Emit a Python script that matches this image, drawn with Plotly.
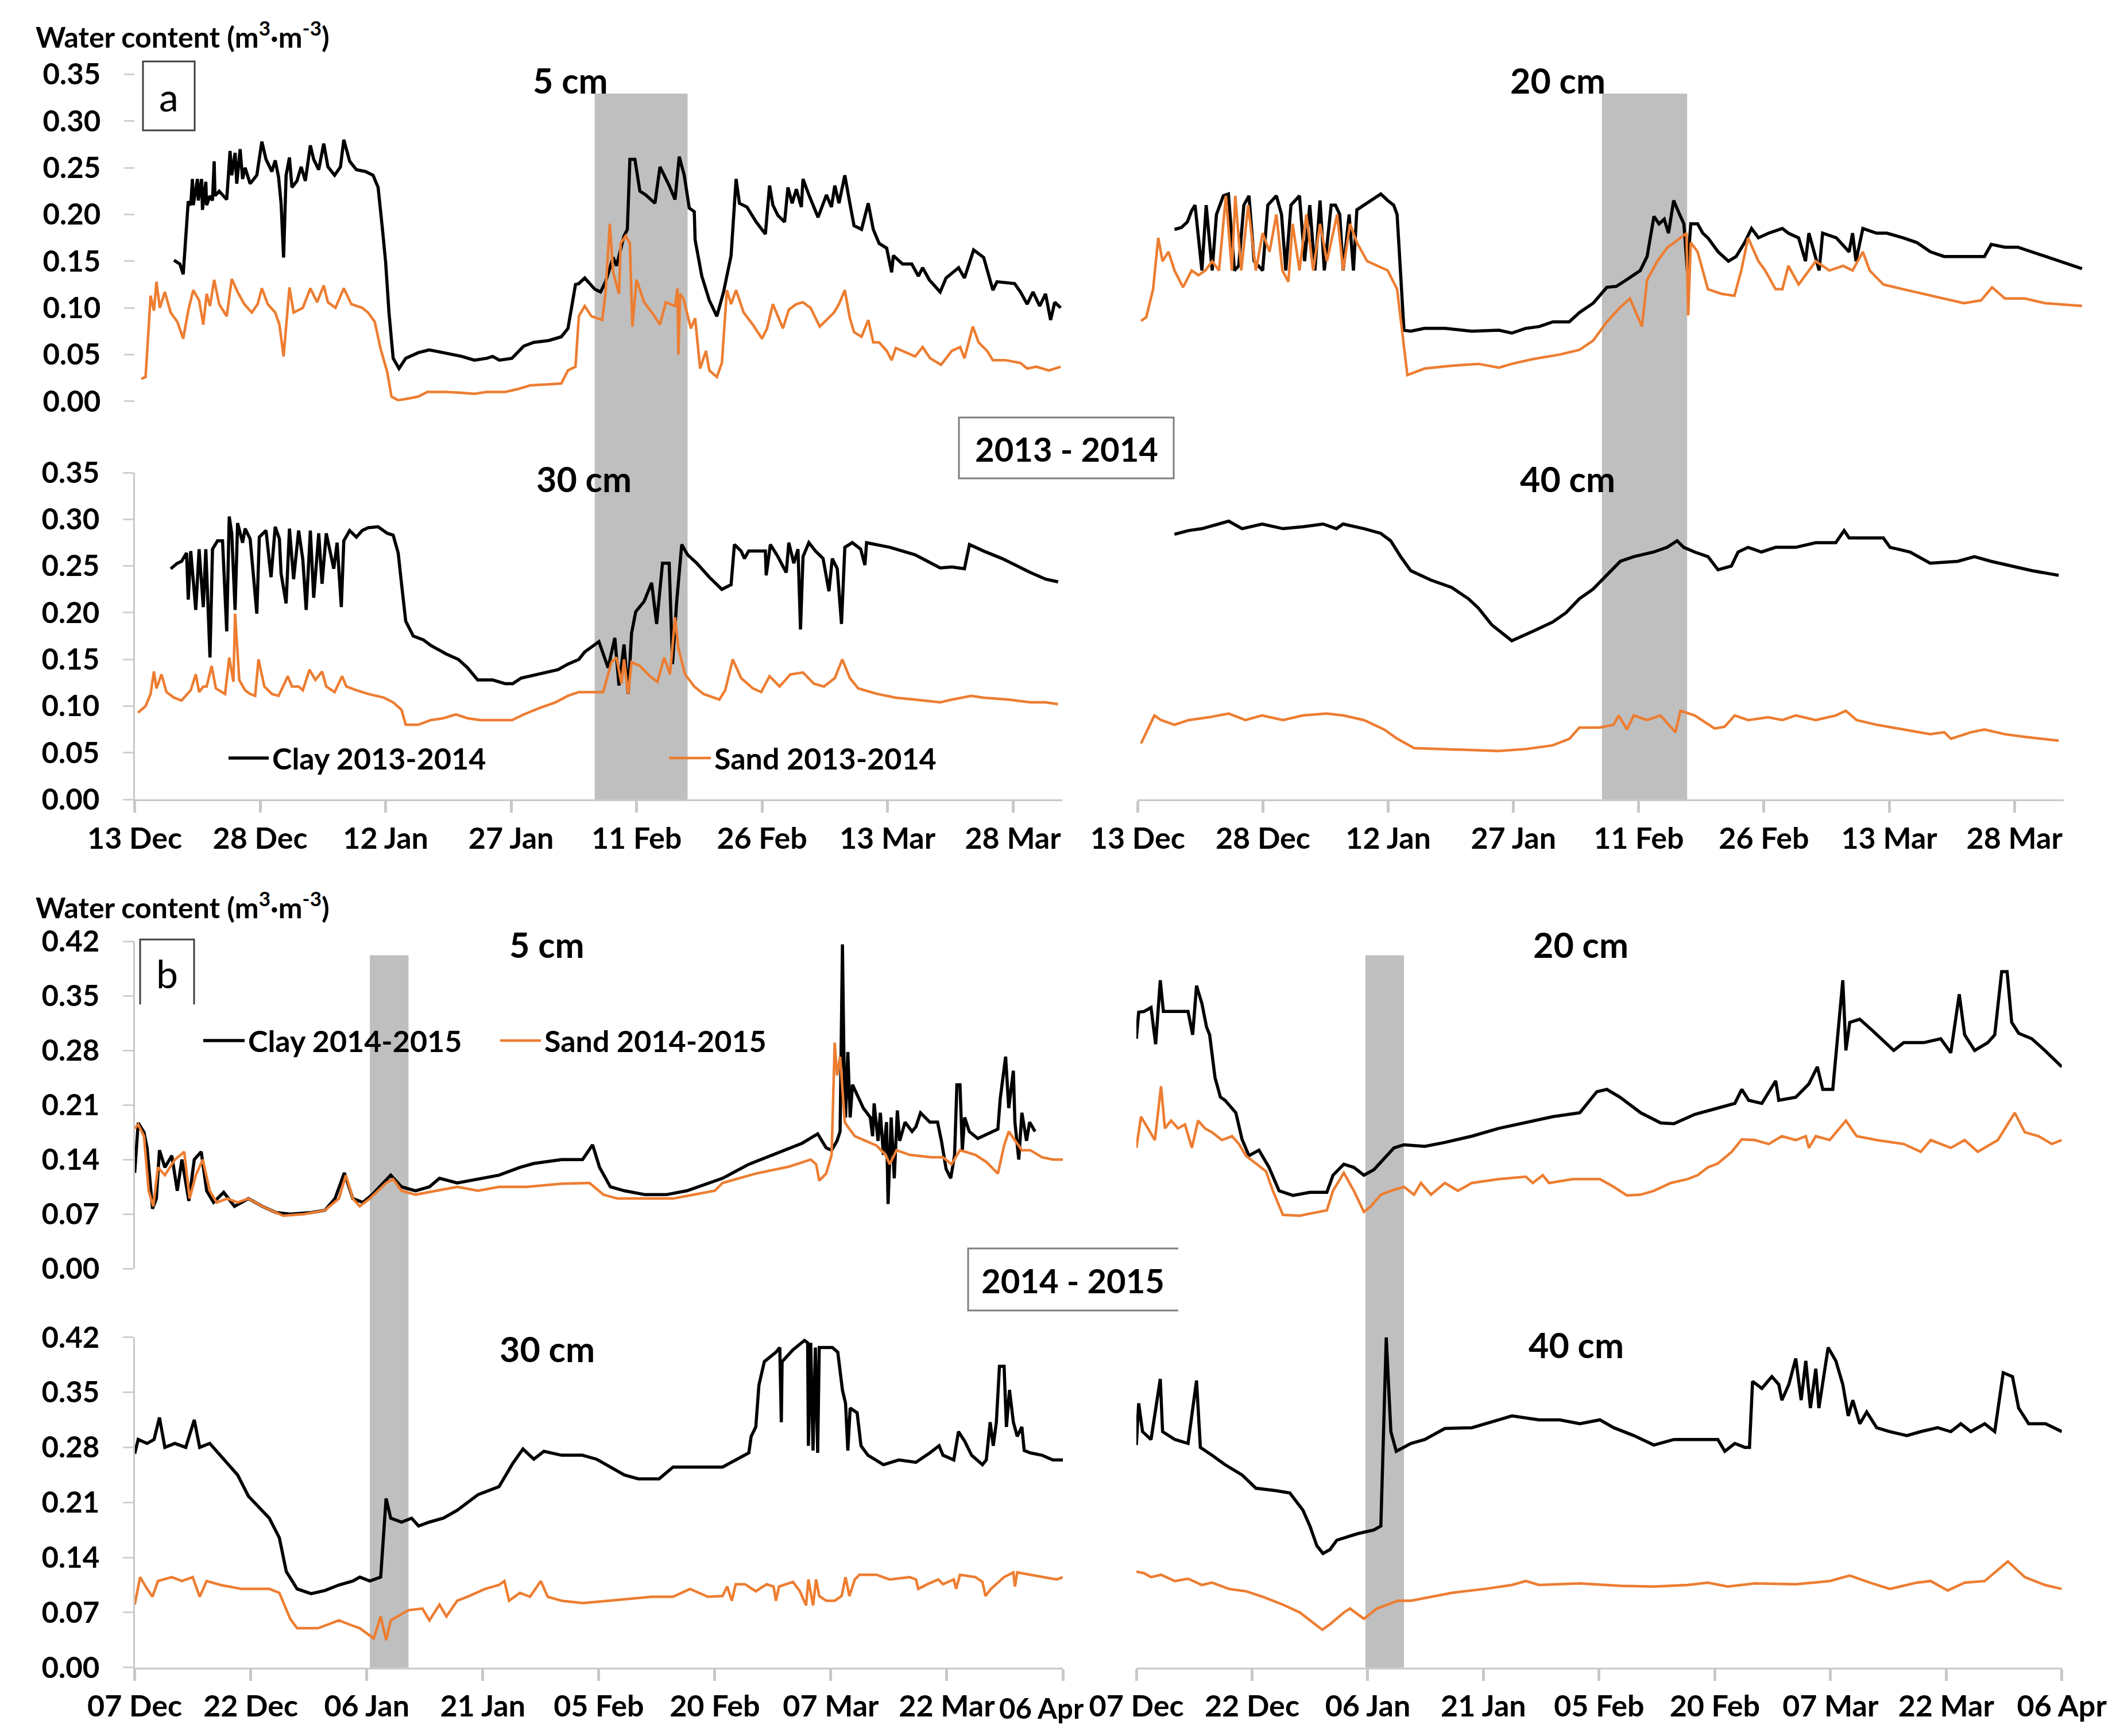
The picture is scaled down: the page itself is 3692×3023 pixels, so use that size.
import pandas as pd
import plotly.graph_objects as go

# ---------------------------------------------------------------- data
# x values are days counted from the first date of each season's axis
start_1314 = "2013-12-13"
start_1415 = "2014-12-07"
axis_days_1314 = 110.9
axis_days_1415 = 120.0

y_ticks_1314 = [0.00, 0.05, 0.10, 0.15, 0.20, 0.25, 0.30, 0.35]
y_ticks_1415 = [0.00, 0.07, 0.14, 0.21, 0.28, 0.35, 0.42]

# rain periods shown as grey bands (days from axis start)
rain_1314_left = [55.0, 66.1]
rain_1314_right = [55.6, 65.8]
rain_1415_left = [30.4, 35.4]
rain_1415_right = [29.7, 34.7]

# ---- 2013-2014, 5 cm
clay_5cm_1314_days = [4.7, 5.4, 5.8, 6.2, 6.4, 6.7, 6.9, 7.0, 7.5, 7.6, 8.0, 8.1, 8.5, 8.6, 9.0, 9.3, 9.5, 9.6, 10.1, 11.0,
                      11.4, 11.6, 12.0, 12.2, 12.6, 12.9, 13.2, 13.8, 14.6, 15.2, 15.7, 16.4, 16.8, 17.2, 17.5, 17.8, 18.1, 18.5, 18.8, 19.4,
                      19.9, 20.4, 21.0, 21.4, 22.0, 22.6, 23.1, 23.9, 24.6, 25.0, 25.7, 26.5, 27.6, 28.5, 29.1, 29.6, 30.0, 30.4, 30.9, 31.6,
                      32.4, 33.9, 35.2, 36.9, 39.1, 40.6, 42.1, 42.8, 43.6, 45.1, 46.5, 47.7, 49.5, 51.0, 51.8, 52.7,
                      53.1, 53.8, 55.0, 55.7, 56.3, 57.2, 57.6, 58.5, 58.9, 59.2, 59.8, 60.4, 61.1, 62.2, 62.8, 63.3, 63.9, 64.6, 65.1, 65.7,
                      66.3, 66.9, 67.0, 67.8, 68.7, 69.6, 70.4, 71.3, 71.9, 72.3, 73.2, 74.3, 75.4, 75.9, 76.3, 76.9, 77.7, 78.1, 78.6, 79.1,
                      79.7, 79.9, 80.6, 81.7, 82.7, 83.3, 83.7, 84.2, 84.9, 85.5, 86.0, 86.9, 87.7, 88.3, 89.0, 89.9, 90.5, 90.7, 91.8, 92.9,
                      93.7, 94.2, 95.0, 96.3, 97.0, 98.5, 99.2, 100.3, 101.5, 102.6, 103.1, 105.2, 105.9, 106.7, 107.4, 108.2, 108.9, 109.5, 110.0, 110.7]
clay_5cm_1314 = [0.151, 0.147, 0.136, 0.194, 0.214, 0.210, 0.238, 0.210, 0.238, 0.215, 0.238, 0.205, 0.235, 0.210, 0.220, 0.215, 0.257, 0.220, 0.225, 0.216,
                 0.268, 0.242, 0.266, 0.233, 0.270, 0.238, 0.250, 0.233, 0.242, 0.278, 0.259, 0.246, 0.258, 0.240, 0.212, 0.154, 0.242, 0.261, 0.229, 0.236,
                 0.251, 0.236, 0.274, 0.259, 0.248, 0.276, 0.251, 0.242, 0.251, 0.280, 0.257, 0.248, 0.246, 0.242, 0.229, 0.186, 0.149, 0.095, 0.046, 0.035,
                 0.046, 0.052, 0.055, 0.052, 0.048, 0.044, 0.046, 0.048, 0.044, 0.046, 0.059, 0.063, 0.065, 0.069, 0.078, 0.125,
                 0.126, 0.132, 0.120, 0.117, 0.128, 0.154, 0.145, 0.177, 0.184, 0.259, 0.259, 0.225, 0.221, 0.212, 0.251, 0.242, 0.231, 0.216, 0.262, 0.242,
                 0.207, 0.203, 0.173, 0.134, 0.108, 0.091, 0.117, 0.156, 0.238, 0.212, 0.208, 0.192, 0.179, 0.231, 0.210, 0.199, 0.192, 0.229, 0.212, 0.227,
                 0.208, 0.238, 0.221, 0.197, 0.221, 0.208, 0.231, 0.212, 0.242, 0.212, 0.188, 0.184, 0.212, 0.184, 0.169, 0.164, 0.138, 0.156, 0.147, 0.147,
                 0.134, 0.143, 0.130, 0.117, 0.132, 0.143, 0.132, 0.162, 0.154, 0.119, 0.128, 0.126, 0.117, 0.104, 0.117, 0.102, 0.115, 0.087, 0.106, 0.100]
sand_5cm_1314_days = [0.8, 1.3, 1.9, 2.3, 2.6, 3.0, 3.6, 4.3, 5.1, 5.8, 6.4, 7.0, 7.7, 8.2, 8.6, 9.0, 9.5, 10.1, 11.0, 11.6,
                      12.3, 13.1, 14.0, 14.7, 15.2, 15.9, 16.8, 17.3, 17.8, 18.5, 19.0, 20.1, 21.0, 21.8, 22.6, 23.1, 24.0, 25.0, 25.9, 27.2,
                      27.9, 28.7, 29.4, 30.2, 30.7, 31.5, 32.8, 33.9, 35.0, 37.2, 39.1, 40.6, 42.1, 44.3, 45.8, 47.3, 49.2, 51.0, 51.8, 52.7,
                      53.1, 53.8, 54.6, 55.9, 56.3, 56.8, 57.2, 57.9, 58.1, 58.7, 59.2, 59.5, 60.0, 60.9, 62.0, 62.8, 63.5, 64.6, 64.9, 65.0,
                      65.2, 65.6, 66.5, 67.0, 67.6, 68.3, 68.7, 69.6, 70.2, 70.8, 71.3, 71.9, 72.8, 73.9, 75.0, 75.6, 76.3, 77.5, 78.2, 79.1,
                      79.9, 80.8, 81.9, 82.9, 83.6, 84.2, 84.9, 85.5, 86.0, 86.9, 87.7, 88.3, 89.0, 89.9, 90.5, 91.0, 92.2, 93.3, 94.2, 95.1,
                      96.4, 97.7, 98.7, 99.2, 100.2, 100.9, 101.9, 102.6, 104.1, 105.9, 106.7, 107.8, 109.3, 110.7]
sand_5cm_1314 = [0.024, 0.026, 0.113, 0.097, 0.128, 0.100, 0.117, 0.095, 0.085, 0.067, 0.097, 0.119, 0.108, 0.082, 0.115, 0.102, 0.130, 0.104, 0.091, 0.131,
                 0.117, 0.104, 0.095, 0.104, 0.121, 0.104, 0.095, 0.082, 0.048, 0.122, 0.095, 0.100, 0.121, 0.106, 0.124, 0.106, 0.100, 0.121, 0.104, 0.100,
                 0.095, 0.085, 0.056, 0.031, 0.005, 0.001, 0.003, 0.005, 0.010, 0.010, 0.009, 0.008, 0.010, 0.010, 0.013, 0.017, 0.018, 0.019, 0.033, 0.037,
                 0.091, 0.102, 0.091, 0.087, 0.117, 0.190, 0.138, 0.115, 0.169, 0.177, 0.169, 0.080, 0.130, 0.106, 0.093, 0.082, 0.106, 0.102, 0.121, 0.050,
                 0.115, 0.110, 0.078, 0.089, 0.035, 0.054, 0.033, 0.026, 0.041, 0.119, 0.104, 0.119, 0.095, 0.082, 0.067, 0.078, 0.104, 0.078, 0.098, 0.104,
                 0.106, 0.100, 0.080, 0.089, 0.095, 0.104, 0.119, 0.089, 0.074, 0.069, 0.087, 0.063, 0.063, 0.054, 0.044, 0.057, 0.052, 0.048, 0.058, 0.046,
                 0.039, 0.054, 0.058, 0.046, 0.080, 0.063, 0.054, 0.044, 0.044, 0.041, 0.035, 0.037, 0.033, 0.037]

# ---- 2013-2014, 20 cm
clay_20cm_1314_days = [4.3, 5.1, 5.8, 6.3, 6.7, 7.5, 8.0, 8.7, 9.2, 10.0, 10.6, 11.3, 11.8, 12.4, 13.0, 13.6, 14.6, 15.2, 16.2, 16.8,
                       17.3, 17.9, 18.9, 19.5, 20.1, 20.7, 21.3, 21.8, 22.6, 23.1, 23.6, 24.0, 24.7, 25.2, 25.6, 26.4, 27.2, 28.4, 29.2, 29.9,
                       30.3, 30.7, 31.1, 31.9, 33.5, 35.9, 39.0, 42.2, 43.7, 45.3, 46.9, 48.5, 50.4, 51.6, 53.2, 54.8, 55.9, 57.1, 58.7, 59.5,
                       60.3, 60.9, 61.5, 62.0, 62.6, 63.3, 63.8, 64.2, 64.6, 65.4, 66.0, 66.6, 67.8, 69.0, 69.9, 70.9, 71.7, 72.5, 73.7, 75.3,
                       76.0, 77.2, 78.0, 78.4, 79.6, 80.0, 81.6, 83.1, 83.5, 83.9, 84.7, 86.3, 87.5, 89.4, 91.0, 92.6, 94.2, 96.5, 98.9, 99.7,
                       101.3, 102.8, 104.4, 106.0, 107.6, 109.1, 110.3]
clay_20cm_1314 = [0.184, 0.186, 0.192, 0.204, 0.210, 0.140, 0.210, 0.140, 0.200, 0.220, 0.222, 0.140, 0.145, 0.210, 0.220, 0.150, 0.140, 0.210, 0.220, 0.200,
                  0.140, 0.210, 0.220, 0.150, 0.210, 0.140, 0.215, 0.140, 0.210, 0.210, 0.200, 0.140, 0.200, 0.140, 0.205, 0.210, 0.215, 0.222, 0.215, 0.210,
                  0.200, 0.140, 0.076, 0.075, 0.078, 0.078, 0.075, 0.076, 0.073, 0.078, 0.080, 0.085, 0.085, 0.095, 0.105, 0.122, 0.123, 0.130, 0.140, 0.155,
                  0.198, 0.190, 0.195, 0.180, 0.215, 0.200, 0.190, 0.140, 0.190, 0.190, 0.180, 0.175, 0.160, 0.150, 0.155, 0.170, 0.185, 0.175, 0.180, 0.185,
                  0.180, 0.175, 0.150, 0.180, 0.140, 0.180, 0.175, 0.160, 0.180, 0.150, 0.185, 0.180, 0.180, 0.175, 0.170, 0.160, 0.155, 0.155, 0.155, 0.168,
                  0.165, 0.165, 0.160, 0.155, 0.150, 0.145, 0.142]
sand_20cm_1314_days = [0.4, 1.0, 1.8, 2.4, 2.9, 3.6, 4.3, 5.3, 6.3, 7.1, 7.9, 8.7, 9.5, 10.3, 11.0, 11.4, 12.1, 12.9, 13.8, 14.6,
                       15.4, 16.2, 16.9, 17.6, 18.1, 18.9, 19.7, 20.5, 21.3, 22.1, 23.3, 24.0, 24.8, 25.6, 26.8, 28.0, 29.2, 30.3, 31.1, 31.5,
                       33.5, 36.6, 39.8, 42.2, 43.7, 46.1, 49.3, 51.6, 53.2, 54.8, 56.3, 57.5, 58.9, 59.5, 60.7, 61.9, 62.7, 63.4, 64.1, 64.3,
                       64.6, 65.4, 66.6, 68.2, 69.7, 70.5, 71.3, 72.5, 73.3, 74.5, 75.3, 76.0, 77.2, 78.4, 79.2, 80.8, 82.4, 83.5, 84.7, 85.5,
                       87.1, 89.4, 91.8, 94.2, 96.5, 98.5, 99.8, 101.3, 103.6, 106.0, 108.4, 110.3]
sand_20cm_1314 = [0.086, 0.090, 0.120, 0.175, 0.150, 0.160, 0.140, 0.122, 0.140, 0.135, 0.140, 0.150, 0.140, 0.220, 0.140, 0.220, 0.140, 0.210, 0.140, 0.180,
                  0.160, 0.200, 0.140, 0.128, 0.190, 0.140, 0.200, 0.140, 0.190, 0.150, 0.200, 0.140, 0.190, 0.170, 0.150, 0.145, 0.140, 0.120, 0.060, 0.028,
                  0.035, 0.038, 0.040, 0.036, 0.040, 0.045, 0.050, 0.055, 0.065, 0.085, 0.100, 0.110, 0.080, 0.130, 0.150, 0.165, 0.170, 0.175, 0.180, 0.092,
                  0.170, 0.160, 0.120, 0.115, 0.113, 0.140, 0.175, 0.150, 0.140, 0.120, 0.120, 0.145, 0.125, 0.140, 0.150, 0.140, 0.145, 0.140, 0.160, 0.140,
                  0.125, 0.120, 0.115, 0.110, 0.105, 0.108, 0.122, 0.110, 0.110, 0.105, 0.103, 0.102]

# ---- 2013-2014, 30 cm
clay_30cm_1314_days = [4.3, 5.1, 5.6, 6.2, 6.4, 6.7, 7.3, 7.7, 8.2, 8.5, 9.0, 9.3, 9.9, 10.5, 11.0, 11.3, 11.6, 12.0, 12.3, 12.9,
                       13.2, 13.8, 14.6, 14.9, 15.7, 16.3, 16.8, 17.3, 17.5, 18.1, 18.5, 19.0, 19.6, 20.1, 20.5, 21.0, 21.4, 22.0, 22.4, 22.9,
                       23.8, 24.2, 24.7, 25.0, 25.7, 26.5, 27.2, 27.9, 29.1, 30.2, 30.9, 31.5, 31.9, 32.4, 33.3, 34.5, 35.4, 37.2, 38.7, 39.8,
                       41.0, 42.8, 44.3, 45.2, 46.2, 48.0, 49.5, 50.6, 51.8,
                       53.1, 53.8, 55.5, 56.6, 57.4, 57.9, 58.5, 59.0, 59.4, 59.9, 60.9, 61.8, 62.4, 63.1, 63.9, 64.3, 64.8, 65.4, 66.1, 67.2,
                       68.7, 70.2, 71.3, 71.7, 72.5, 72.9, 73.4, 75.4, 75.5, 76.0, 76.9, 77.6, 77.9, 78.2, 78.8, 79.3, 79.6, 79.9, 80.6, 81.4,
                       82.3, 83.0, 83.4, 84.0, 84.5, 84.9, 85.8, 86.8, 87.3, 87.5, 88.8, 90.3, 91.8, 93.3, 94.8, 96.3, 97.7, 99.2, 99.8, 101.5,
                       103.7, 105.2, 107.1, 108.9, 110.4]
clay_30cm_1314 = [0.247, 0.253, 0.255, 0.264, 0.214, 0.266, 0.203, 0.268, 0.206, 0.268, 0.152, 0.268, 0.277, 0.277, 0.180, 0.303, 0.285, 0.203, 0.296, 0.275,
                  0.290, 0.279, 0.199, 0.281, 0.288, 0.238, 0.292, 0.279, 0.242, 0.210, 0.290, 0.236, 0.288, 0.257, 0.203, 0.288, 0.216, 0.285, 0.231, 0.285,
                  0.247, 0.275, 0.206, 0.277, 0.288, 0.281, 0.288, 0.291, 0.292, 0.285, 0.283, 0.264, 0.231, 0.191, 0.175, 0.171, 0.165, 0.156, 0.150, 0.141,
                  0.128, 0.128, 0.124, 0.124, 0.130, 0.134, 0.137, 0.139, 0.145,
                  0.150, 0.158, 0.169, 0.141, 0.173, 0.122, 0.166, 0.113, 0.178, 0.201, 0.212, 0.232, 0.188, 0.253, 0.253, 0.145, 0.212, 0.273, 0.262, 0.253,
                  0.238, 0.225, 0.230, 0.273, 0.266, 0.258, 0.266, 0.266, 0.240, 0.273, 0.260, 0.248, 0.243, 0.275, 0.253, 0.268, 0.182, 0.260, 0.275, 0.266,
                  0.258, 0.223, 0.258, 0.247, 0.188, 0.270, 0.275, 0.268, 0.251, 0.275, 0.273, 0.270, 0.266, 0.262, 0.255, 0.248, 0.249, 0.247, 0.273, 0.266,
                  0.258, 0.251, 0.243, 0.236, 0.233]
sand_30cm_1314_days = [0.4, 1.3, 1.9, 2.3, 2.6, 3.2, 3.8, 4.7, 5.6, 6.7, 7.3, 7.7, 8.2, 8.6, 9.2, 9.7, 10.8, 11.3, 11.8, 12.0,
                       12.5, 13.2, 13.8, 14.4, 14.8, 15.5, 16.4, 17.2, 17.9, 18.3, 18.8, 19.6, 20.1, 20.9, 21.6, 22.4, 22.9, 23.9, 24.8, 25.3,
                       26.5, 27.9, 29.8, 30.9, 31.9, 32.4, 33.9, 35.4, 36.9, 38.4, 39.8, 41.3, 42.8, 45.1, 46.5, 48.4, 50.3, 51.8,
                       53.1, 56.0, 57.0, 57.6, 58.2, 58.5, 59.0, 59.4, 60.4, 61.6, 62.5, 63.3, 64.0, 64.6, 65.0, 65.8, 66.9, 68.0, 69.9, 70.6,
                       71.5, 72.5, 73.9, 74.9, 75.9, 77.1, 78.4, 79.9, 81.2, 82.4, 83.7, 84.6, 85.5, 86.5, 88.8, 91.0, 93.3, 96.3, 97.7, 100.0,
                       101.5, 104.5, 107.1, 108.9, 110.4]
sand_30cm_1314 = [0.093, 0.100, 0.113, 0.137, 0.119, 0.134, 0.115, 0.109, 0.106, 0.117, 0.134, 0.115, 0.121, 0.121, 0.143, 0.119, 0.113, 0.152, 0.126, 0.199,
                  0.128, 0.117, 0.113, 0.111, 0.150, 0.121, 0.113, 0.111, 0.124, 0.132, 0.121, 0.121, 0.117, 0.139, 0.128, 0.137, 0.121, 0.115, 0.132, 0.121,
                  0.117, 0.113, 0.109, 0.104, 0.096, 0.080, 0.080, 0.085, 0.087, 0.091, 0.087, 0.085, 0.085, 0.085, 0.091, 0.098, 0.104, 0.111,
                  0.115, 0.115, 0.147, 0.152, 0.124, 0.150, 0.113, 0.147, 0.143, 0.132, 0.126, 0.152, 0.134, 0.195, 0.162, 0.134, 0.121, 0.113, 0.107, 0.117,
                  0.150, 0.130, 0.119, 0.115, 0.132, 0.121, 0.134, 0.136, 0.124, 0.121, 0.130, 0.150, 0.130, 0.119, 0.113, 0.109, 0.107, 0.104, 0.107, 0.111,
                  0.109, 0.107, 0.104, 0.104, 0.102]

# ---- 2013-2014, 40 cm
clay_40cm_1314_days = [4.4, 6.1, 7.7, 10.9, 12.5, 14.9, 17.4, 19.8, 22.2, 23.8, 24.6, 27.1, 29.1, 30.3, 31.5, 32.7, 35.1, 37.6, 39.6, 40.8,
                       42.4, 44.8, 47.3, 49.7, 51.3, 52.9, 54.5, 56.2, 57.8, 59.4, 61.8, 63.4, 64.6, 65.4, 66.7, 68.3, 69.5, 71.1, 71.9, 73.1,
                       74.7, 76.4, 78.8, 81.2, 83.6, 84.6, 85.2, 89.3, 90.1, 92.5, 94.9, 98.2, 100.2, 102.2, 104.6, 107.1, 110.3]
clay_40cm_1314 = [0.284, 0.288, 0.290, 0.298, 0.290, 0.295, 0.290, 0.292, 0.295, 0.290, 0.295, 0.290, 0.285, 0.277, 0.260, 0.245, 0.235, 0.227, 0.215, 0.205,
                  0.187, 0.170, 0.180, 0.190, 0.200, 0.215, 0.225, 0.240, 0.255, 0.260, 0.265, 0.270, 0.277, 0.270, 0.265, 0.260, 0.246, 0.250, 0.265, 0.270,
                  0.265, 0.270, 0.270, 0.275, 0.275, 0.288, 0.280, 0.280, 0.270, 0.265, 0.253, 0.255, 0.260, 0.255, 0.250, 0.245, 0.240]
sand_40cm_1314_days = [0.4, 1.2, 2.0, 2.8, 4.4, 6.1, 8.5, 10.9, 12.9, 14.9, 17.4, 19.8, 22.6, 24.6, 27.1, 29.5, 31.1, 33.1, 36.8, 40.0,
                       43.2, 46.5, 49.7, 51.7, 52.9, 55.3, 57.0, 57.6, 58.6, 59.4, 61.0, 62.6, 64.4, 65.0, 66.7, 69.1, 70.3, 71.5, 73.1, 75.5,
                       77.2, 78.8, 81.2, 83.6, 84.8, 86.1, 88.5, 91.7, 94.9, 96.6, 97.4, 99.8, 101.4, 103.8, 106.3, 110.3]
sand_40cm_1314 = [0.060, 0.075, 0.090, 0.085, 0.080, 0.085, 0.088, 0.092, 0.085, 0.090, 0.085, 0.090, 0.092, 0.090, 0.085, 0.075, 0.065, 0.055, 0.054, 0.053,
                  0.052, 0.054, 0.058, 0.065, 0.077, 0.077, 0.080, 0.090, 0.075, 0.090, 0.085, 0.090, 0.072, 0.095, 0.090, 0.076, 0.078, 0.090, 0.085, 0.088,
                  0.085, 0.090, 0.085, 0.090, 0.095, 0.085, 0.080, 0.075, 0.070, 0.072, 0.065, 0.072, 0.075, 0.070, 0.067, 0.063]

# ---- 2014-2015, 5 cm
clay_5cm_1415_days = [0, 0.45, 1.2, 1.6, 2.3, 2.8, 3.2, 3.9, 4.8, 5.5, 6.1, 7.0, 7.7, 8.6, 9.3, 10.2, 11.5, 12.9, 14.7, 16.5,
                      18.3, 20.1, 22.8, 24.6, 25.9, 27.1, 28.2, 29.5, 30.7, 32.2, 33.1, 34.5, 36.3, 38.1, 39.4, 41.7, 44.4, 47.1, 49.8, 51.6,
                      55.2, 57.9, 59.2, 60.1, 61.5, 63.3, 66.0, 68.7, 71.4, 74.1,
                      76.0, 79.4, 83.1, 86.3, 88.3, 89.4, 90.1, 90.8, 91.2, 91.5, 91.7, 91.9, 92.2, 92.5, 92.8, 93.4, 94.2, 95.1, 95.4, 95.6,
                      96.1, 96.4, 96.8, 97.2, 97.4, 97.8, 98.2, 98.6, 98.9, 99.6, 100.5, 101.0, 101.6, 102.8, 103.8, 104.3, 104.9, 105.5, 106.0, 106.3,
                      106.7, 107.0, 107.3, 107.9, 109.0, 111.6, 111.9, 112.6, 113.0, 113.6, 113.8, 114.3, 114.7, 115.3, 115.7, 116.4]
clay_5cm_1415 = [0.123, 0.187, 0.175, 0.155, 0.077, 0.090, 0.152, 0.130, 0.145, 0.100, 0.140, 0.087, 0.140, 0.150, 0.100, 0.085, 0.098, 0.080, 0.090, 0.080,
                 0.072, 0.070, 0.072, 0.075, 0.090, 0.123, 0.090, 0.085, 0.095, 0.110, 0.120, 0.105, 0.100, 0.105, 0.116, 0.110, 0.115, 0.120, 0.130, 0.135,
                 0.140, 0.140, 0.159, 0.130, 0.105, 0.100, 0.095, 0.095, 0.100, 0.110,
                 0.116, 0.134, 0.149, 0.161, 0.173, 0.155, 0.152, 0.164, 0.176, 0.416, 0.266, 0.194, 0.278, 0.194, 0.236, 0.224, 0.206, 0.194, 0.170, 0.212,
                 0.164, 0.200, 0.146, 0.188, 0.083, 0.194, 0.116, 0.203, 0.164, 0.188, 0.176, 0.182, 0.200, 0.188, 0.188, 0.164, 0.128, 0.116, 0.146, 0.236,
                 0.236, 0.152, 0.194, 0.176, 0.167, 0.179, 0.218, 0.272, 0.206, 0.254, 0.188, 0.140, 0.200, 0.164, 0.188, 0.176]
sand_5cm_1415_days = [0, 0.45, 1.2, 1.8, 2.4, 3.0, 3.9, 5.2, 6.4, 7.1, 7.9, 8.8, 9.7, 10.6, 12.0, 13.3, 14.7, 16.5, 19.2, 21.9,
                      24.6, 26.4, 27.3, 28.2, 29.1, 30.4, 32.5, 33.4, 34.5, 36.3, 39.0, 41.7, 44.4, 47.1, 50.7, 55.2, 58.8, 60.6, 62.4, 66.0,
                      69.6, 72.3, 75.0,
                      76.0, 80.3, 84.6, 87.4, 88.1, 88.5, 89.4, 90.1, 90.5, 90.8, 91.2, 91.8, 92.2, 93.1, 94.5, 95.9, 97.1, 97.6, 98.5, 100.2,
                      103.0, 104.5, 105.6, 106.7, 108.7, 110.1, 111.6, 112.4, 113.0, 113.8, 114.7, 115.8, 117.3, 118.7, 120.0]
sand_5cm_1415 = [0.180, 0.185, 0.170, 0.100, 0.080, 0.130, 0.120, 0.140, 0.150, 0.090, 0.120, 0.140, 0.100, 0.085, 0.090, 0.085, 0.090, 0.080, 0.068, 0.070,
                 0.075, 0.090, 0.120, 0.090, 0.080, 0.090, 0.110, 0.115, 0.100, 0.095, 0.100, 0.105, 0.100, 0.105, 0.105, 0.109, 0.110, 0.095, 0.090, 0.090,
                 0.090, 0.095, 0.100,
                 0.110, 0.122, 0.131, 0.140, 0.134, 0.113, 0.122, 0.146, 0.290, 0.248, 0.272, 0.188, 0.182, 0.170, 0.164, 0.158, 0.146, 0.134, 0.152, 0.146,
                 0.143, 0.143, 0.134, 0.152, 0.146, 0.137, 0.122, 0.158, 0.176, 0.164, 0.152, 0.152, 0.143, 0.140, 0.140]

# ---- 2014-2015, 20 cm
clay_20cm_1415_days = [0, 0.3, 1.0, 1.9, 2.5, 3.1, 3.5, 5.0, 6.7, 7.3, 7.8, 8.5, 9.1, 9.5, 10.2, 10.9, 11.5, 12.9, 13.7, 14.6,
                       15.9, 17.2, 18.5, 20.3, 22.5, 24.7, 25.5, 26.9, 28.2, 29.5, 30.8, 32.1, 33.4, 34.7, 37.4, 40.0, 43.5, 47.0, 50.5, 54.0,
                       57.5, 59.7, 61.0, 62.7, 65.4, 68.0, 69.7, 72.4, 75.0, 77.6, 78.5, 79.4, 81.1, 82.9, 83.3, 85.5, 87.2, 88.3, 89.0, 90.3,
                       91.6, 92.0, 92.5, 93.8, 95.5, 97.3, 98.2, 99.5, 102.1, 104.3, 105.6, 106.7, 107.4, 108.7, 110.4, 111.3, 112.2, 112.9, 113.5, 114.4,
                       116.1, 117.8, 120.0]
clay_20cm_1415 = [0.295, 0.329, 0.330, 0.335, 0.288, 0.370, 0.330, 0.330, 0.330, 0.300, 0.363, 0.340, 0.310, 0.300, 0.245, 0.220, 0.216, 0.200, 0.166, 0.145,
                  0.152, 0.130, 0.100, 0.094, 0.098, 0.098, 0.120, 0.134, 0.130, 0.120, 0.127, 0.141, 0.155, 0.159, 0.157, 0.162, 0.170, 0.180, 0.187, 0.195,
                  0.200, 0.227, 0.230, 0.220, 0.200, 0.187, 0.186, 0.198, 0.205, 0.212, 0.230, 0.216, 0.212, 0.241, 0.216, 0.220, 0.237, 0.259, 0.230, 0.230,
                  0.370, 0.280, 0.316, 0.320, 0.305, 0.288, 0.280, 0.290, 0.290, 0.295, 0.277, 0.352, 0.300, 0.280, 0.290, 0.300, 0.381, 0.381, 0.316, 0.302,
                  0.295, 0.280, 0.259]
sand_20cm_1415_days = [0, 0.6, 1.5, 2.4, 3.2, 3.7, 4.5, 5.4, 6.3, 7.2, 8.0, 8.9, 9.8, 11.1, 12.4, 13.3, 14.2, 15.5, 16.8, 17.7,
                       19.0, 21.2, 23.4, 24.7, 25.5, 26.9, 28.2, 29.5, 30.4, 31.7, 33.0, 34.7, 36.0, 36.9, 38.2, 40.0, 41.7, 43.5, 47.0, 50.5,
                       51.4, 52.7, 53.5, 56.6, 60.1, 61.9, 63.6, 65.4, 67.1, 69.3, 71.5, 72.8, 74.1, 75.4, 77.2, 78.5, 80.2, 82.0, 83.7, 85.5,
                       86.8, 87.2, 88.1, 89.9, 92.0, 93.4, 96.0, 99.5, 101.7, 103.0, 105.6, 107.4, 109.1, 111.7, 113.9, 115.2, 117.0, 118.7, 120.0]
sand_20cm_1415 = [0.155, 0.195, 0.180, 0.165, 0.234, 0.180, 0.190, 0.180, 0.185, 0.155, 0.190, 0.180, 0.175, 0.165, 0.170, 0.160, 0.145, 0.135, 0.125, 0.100,
                  0.069, 0.068, 0.072, 0.075, 0.100, 0.123, 0.100, 0.073, 0.080, 0.095, 0.100, 0.105, 0.095, 0.110, 0.095, 0.110, 0.100, 0.110, 0.115, 0.118,
                  0.110, 0.120, 0.110, 0.115, 0.115, 0.105, 0.094, 0.095, 0.100, 0.110, 0.115, 0.120, 0.130, 0.135, 0.150, 0.166, 0.165, 0.160, 0.170, 0.165,
                  0.170, 0.155, 0.170, 0.165, 0.190, 0.170, 0.165, 0.160, 0.150, 0.165, 0.155, 0.165, 0.150, 0.165, 0.200, 0.175, 0.170, 0.160, 0.165]

# ---- 2014-2015, 30 cm
clay_30cm_1415_days = [0, 0.45, 1.6, 2.5, 3.2, 3.9, 5.2, 6.6, 7.7, 8.4, 9.7, 11.1, 12.2, 13.3, 14.7, 16.0, 17.4, 18.7, 19.6, 21.0,
                       22.8, 24.6, 26.4, 28.2, 29.1, 30.4, 31.8, 32.5, 33.1, 34.5, 35.8, 36.7, 38.1, 39.9, 41.7, 44.4, 47.1, 48.9, 50.2, 51.6,
                       52.9, 55.2, 57.9, 59.7, 61.5, 63.3, 65.1, 67.8, 69.6, 73.2,
                       76.0, 79.4, 79.7, 80.3, 80.7, 81.4, 82.9, 83.4, 83.6, 83.7, 85.1, 86.6, 87.0, 87.1, 87.4, 87.7, 88.0, 88.3, 88.5, 90.2,
                       90.9, 91.5, 91.9, 92.2, 92.5, 93.4, 93.9, 94.8, 96.8, 98.8, 101.0, 102.8, 104.0, 104.5, 105.9, 106.5, 107.3, 108.2, 109.6, 110.1,
                       110.6, 111.0, 111.4, 111.8, 112.4, 112.7, 113.1, 113.6, 114.1, 114.7, 115.0, 115.8, 117.3, 118.7, 120.0]
clay_30cm_1415 = [0.272, 0.290, 0.285, 0.290, 0.318, 0.280, 0.285, 0.280, 0.315, 0.280, 0.285, 0.270, 0.258, 0.245, 0.218, 0.205, 0.190, 0.165, 0.122, 0.100,
                  0.094, 0.098, 0.105, 0.110, 0.115, 0.110, 0.115, 0.215, 0.190, 0.185, 0.190, 0.180, 0.185, 0.190, 0.200, 0.220, 0.230, 0.260, 0.278, 0.265,
                  0.275, 0.270, 0.270, 0.265, 0.255, 0.245, 0.240, 0.240, 0.255, 0.255,
                  0.255, 0.273, 0.294, 0.306, 0.359, 0.389, 0.401, 0.407, 0.312, 0.389, 0.404, 0.416, 0.413, 0.282, 0.413, 0.276, 0.407, 0.273, 0.407, 0.407,
                  0.401, 0.353, 0.336, 0.276, 0.330, 0.324, 0.282, 0.270, 0.258, 0.264, 0.261, 0.273, 0.282, 0.270, 0.264, 0.300, 0.288, 0.270, 0.258, 0.264,
                  0.312, 0.282, 0.312, 0.383, 0.383, 0.306, 0.353, 0.312, 0.294, 0.306, 0.276, 0.273, 0.270, 0.264, 0.264]
sand_30cm_1415_days = [0, 0.7, 1.6, 2.3, 3.0, 4.8, 6.1, 7.5, 8.4, 9.3, 11.1, 13.8, 17.4, 18.7, 20.1, 21.0, 23.7, 26.4, 27.7, 29.1,
                       30.9, 31.8, 32.5, 33.1, 35.4, 37.2, 38.1, 39.4, 40.3, 41.7, 43.0, 45.3, 47.1, 47.8, 48.4, 49.8, 51.1, 52.5, 53.4, 55.2,
                       57.9, 61.5, 64.2, 66.9, 69.6, 71.8, 74.1,
                       76.0, 76.6, 77.2, 77.7, 78.9, 80.3, 81.7, 82.6, 82.9, 83.3, 84.3, 85.1, 86.0, 86.8, 87.1, 87.7, 88.1, 88.5, 89.4, 90.5,
                       91.4, 91.9, 92.4, 93.1, 93.7, 95.9, 97.6, 100.2, 101.0, 101.3, 102.5, 103.9, 104.5, 105.9, 106.2, 106.7, 108.7, 109.6, 110.0, 110.7,
                       112.4, 113.6, 113.8, 114.1, 115.8, 117.5, 119.2, 120.0]
sand_30cm_1415 = [0.080, 0.115, 0.100, 0.090, 0.110, 0.115, 0.110, 0.115, 0.090, 0.110, 0.105, 0.100, 0.100, 0.095, 0.062, 0.050, 0.050, 0.060, 0.055, 0.050,
                  0.037, 0.065, 0.035, 0.060, 0.073, 0.075, 0.060, 0.080, 0.065, 0.085, 0.090, 0.100, 0.105, 0.110, 0.085, 0.095, 0.090, 0.110, 0.090, 0.085,
                  0.082, 0.085, 0.088, 0.090, 0.090, 0.100, 0.090,
                  0.091, 0.103, 0.085, 0.106, 0.106, 0.097, 0.106, 0.103, 0.085, 0.103, 0.106, 0.109, 0.097, 0.079, 0.112, 0.079, 0.112, 0.091, 0.085, 0.085,
                  0.091, 0.115, 0.091, 0.112, 0.118, 0.118, 0.112, 0.115, 0.112, 0.100, 0.106, 0.112, 0.106, 0.112, 0.100, 0.118, 0.115, 0.109, 0.091, 0.100,
                  0.115, 0.121, 0.103, 0.121, 0.118, 0.115, 0.112, 0.115]

# ---- 2014-2015, 40 cm
clay_40cm_1415_days = [0, 0.3, 0.8, 1.9, 3.1, 3.4, 5.0, 6.7, 7.8, 8.3, 9.8, 11.5, 13.7, 15.5, 18.1, 19.9, 21.6, 22.5, 23.4, 24.2,
                       25.1, 26.0, 28.6, 30.8, 31.7, 32.4, 33.0, 33.7, 35.6, 37.4, 40.0, 43.5, 47.0, 48.7, 52.2, 54.9, 57.5, 60.1, 61.9, 64.5,
                       67.1, 69.7, 73.2, 75.4, 76.3, 77.6, 78.9, 79.5, 79.9, 81.1, 82.4, 83.3, 83.7, 84.6, 85.5, 86.2, 86.8, 87.4, 88.1, 88.5,
                       89.7, 90.7, 91.6, 92.3, 92.9, 93.8, 94.7, 96.0, 97.7, 99.9, 101.7, 103.9, 105.6, 106.9, 108.2, 110.0, 111.3, 112.4, 113.6, 114.4,
                       115.7, 117.9, 120.0]
clay_40cm_1415 = [0.283, 0.336, 0.300, 0.290, 0.367, 0.300, 0.290, 0.285, 0.365, 0.280, 0.270, 0.258, 0.245, 0.228, 0.225, 0.222, 0.200, 0.180, 0.155, 0.145,
                  0.150, 0.162, 0.170, 0.175, 0.180, 0.420, 0.300, 0.275, 0.285, 0.290, 0.304, 0.305, 0.315, 0.320, 0.315, 0.315, 0.310, 0.315, 0.305, 0.295,
                  0.283, 0.290, 0.290, 0.290, 0.275, 0.285, 0.280, 0.280, 0.364, 0.355, 0.370, 0.360, 0.340, 0.360, 0.393, 0.340, 0.390, 0.330, 0.380, 0.330,
                  0.407, 0.390, 0.360, 0.320, 0.340, 0.310, 0.325, 0.305, 0.300, 0.295, 0.300, 0.305, 0.300, 0.310, 0.300, 0.310, 0.300, 0.375, 0.370, 0.330,
                  0.310, 0.310, 0.300]
sand_40cm_1415_days = [0, 1.0, 1.9, 3.2, 5.0, 6.7, 8.5, 9.8, 12.0, 14.2, 16.4, 19.0, 21.2, 22.5, 24.1, 25.1, 26.9, 27.7, 29.5, 31.2,
                       32.5, 33.9, 35.6, 38.2, 40.9, 45.2, 48.7, 50.5, 52.2, 57.5, 62.7, 67.1, 71.5, 74.1, 76.7, 80.2, 85.5, 89.9, 92.5, 95.1,
                       97.7, 101.2, 103.0, 105.2, 107.4, 110.0, 113.0, 115.2, 117.8, 120.0]
sand_40cm_1415 = [0.122, 0.120, 0.115, 0.118, 0.110, 0.113, 0.105, 0.108, 0.100, 0.097, 0.090, 0.080, 0.070, 0.060, 0.048, 0.055, 0.070, 0.075, 0.062, 0.075,
                  0.080, 0.085, 0.085, 0.090, 0.095, 0.100, 0.105, 0.110, 0.105, 0.107, 0.104, 0.103, 0.105, 0.108, 0.103, 0.107, 0.106, 0.110, 0.117, 0.108,
                  0.100, 0.108, 0.110, 0.098, 0.108, 0.110, 0.135, 0.115, 0.105, 0.100]

# ---------------------------------------------------------------- figure
W, H = 3692, 3023
BLACK = "#000000"
ORANGE = "#ED7D31"
AXIS_GREY = "#C8C8C8"
TICK_GREY = "#D0D0D0"
BAND_GREY = "#BFBFBF"
FONT = "Lato"


def fx(px):
    return px / W


def fy(px):
    return 1 - px / H


def day_to_date(start, days):
    return pd.Timestamp(start) + pd.to_timedelta(days, unit="D")


def fmt(ts):
    return ts.strftime("%Y-%m-%d %H:%M")


def bold(size):
    return dict(family=FONT, size=size, color="black", weight="bold")


# panel number, clay, sand, season start, axis length, x pixel span, y pixel span (bottom, top),
# show date axis, show value axis, show value axis line, value ticks
panels = [
    (1, (clay_5cm_1314_days, clay_5cm_1314), (sand_5cm_1314_days, sand_5cm_1314), start_1314, axis_days_1314,
     (226.6, 1842.0), (690.7, 121.6), False, True, False, y_ticks_1314),
    (2, (clay_20cm_1314_days, clay_20cm_1314), (sand_20cm_1314_days, sand_20cm_1314), start_1314, axis_days_1314,
     (1973.3, 3626.8), (690.7, 121.6), False, False, False, y_ticks_1314),
    (3, (clay_30cm_1314_days, clay_30cm_1314), (sand_30cm_1314_days, sand_30cm_1314), start_1314, axis_days_1314,
     (226.6, 1842.0), (1384.2, 815.0), True, True, True, y_ticks_1314),
    (4, (clay_40cm_1314_days, clay_40cm_1314), (sand_40cm_1314_days, sand_40cm_1314), start_1314, axis_days_1314,
     (1973.3, 3586.0), (1384.2, 815.0), True, False, False, y_ticks_1314),
    (5, (clay_5cm_1415_days, clay_5cm_1415), (sand_5cm_1415_days, sand_5cm_1415), start_1415, axis_days_1415,
     (226.6, 1843.0), (2201.3, 1631.1), False, True, True, y_ticks_1415),
    (6, (clay_20cm_1415_days, clay_20cm_1415), (sand_20cm_1415_days, sand_20cm_1415), start_1415, axis_days_1415,
     (1971.0, 3582.7), (2201.3, 1631.1), False, False, False, y_ticks_1415),
    (7, (clay_30cm_1415_days, clay_30cm_1415), (sand_30cm_1415_days, sand_30cm_1415), start_1415, axis_days_1415,
     (226.6, 1843.0), (2895.8, 2320.7), True, True, True, y_ticks_1415),
    (8, (clay_40cm_1415_days, clay_40cm_1415), (sand_40cm_1415_days, sand_40cm_1415), start_1415, axis_days_1415,
     (1971.0, 3582.7), (2895.8, 2320.7), True, False, False, y_ticks_1415),
]

# the last date label of the lower-left 2014-2015 axis is drawn separately, next to the right chart
moved_last_label = {7}

fig = go.Figure()
layout_axes = {}
annotations = []

for n, clay, sand, start, span, xpx, ypx, show_x, show_y, y_line, yticks in panels:
    sfx = "" if n == 1 else str(n)
    for (days, vals), color, width in ((clay, BLACK, 5.5), (sand, ORANGE, 4.5)):
        fig.add_trace(go.Scatter(
            x=day_to_date(start, days), y=vals, mode="lines",
            line=dict(color=color, width=width), showlegend=False,
            xaxis="x" + sfx, yaxis="y" + sfx,
        ))

    xaxis = dict(
        domain=[fx(xpx[0]), fx(xpx[1])], anchor="y" + sfx, type="date",
        range=[fmt(pd.Timestamp(start)), fmt(day_to_date(start, span))],
        showgrid=False, zeroline=False, automargin=False,
    )
    if show_x:
        tick_days = list(range(0, int(span) + 1, 15))
        tick_dates = day_to_date(start, tick_days)
        tick_text = [d.strftime("%d %b") for d in tick_dates]
        if n in moved_last_label:
            annotations.append(dict(text=tick_text[-1], x=fx(1882), y=fy(2966), xref="paper", yref="paper",
                                    showarrow=False, xanchor="right", yanchor="middle", font=bold(49)))
            tick_text[-1] = ""
        xaxis.update(
            showline=True, linecolor=AXIS_GREY, linewidth=3,
            ticks="outside", ticklen=20, tickwidth=5, tickcolor=AXIS_GREY,
            tickvals=[fmt(d) for d in tick_dates], ticktext=tick_text,
            tickfont=bold(52), ticklabelstandoff=0,
        )
    else:
        xaxis.update(visible=False)

    yaxis = dict(
        domain=[fy(ypx[0]), fy(ypx[1])], anchor="x" + sfx,
        range=[0, yticks[-1]], showgrid=False, zeroline=False, automargin=False,
    )
    if show_y:
        yaxis.update(
            showline=y_line, linecolor=AXIS_GREY, linewidth=3,
            ticks="outside", ticklen=18, tickwidth=3, tickcolor=TICK_GREY,
            tickvals=yticks, tickformat=".2f", tickfont=bold(51),
            ticklabelstandoff=30,
        )
    else:
        yaxis.update(visible=False)

    layout_axes["xaxis" + sfx] = xaxis
    layout_axes["yaxis" + sfx] = yaxis

fig.update_layout(**layout_axes)

# grey rain bands: anchored to the date axis of the lower chart, spanning both charts
bands = [
    ("x3", start_1314, rain_1314_left, 1384.2, 155.0),
    ("x4", start_1314, rain_1314_right, 1384.2, 155.0),
    ("x7", start_1415, rain_1415_left, 2895.8, 1655.4),
    ("x8", start_1415, rain_1415_right, 2895.8, 1655.4),
]
shapes = []
for xref, start, (d0, d1), ybot, ytop in bands:
    shapes.append(dict(
        type="rect", xref=xref, yref="paper",
        x0=fmt(day_to_date(start, d0)), x1=fmt(day_to_date(start, d1)),
        y0=fy(ybot), y1=fy(ytop), fillcolor=BAND_GREY, line=dict(width=0), layer="below",
    ))


def path(points):
    return "M " + " L ".join(f"{fx(x)},{fy(y)}" for x, y in points)


# boxes for panel letters and season labels
shapes += [
    dict(type="rect", xref="paper", yref="paper", x0=fx(241), x1=fx(331), y0=fy(219), y1=fy(99),
         line=dict(color="#404040", width=3)),
    dict(type="path", xref="paper", yref="paper", path=path([(236, 1741), (236, 1628), (330, 1628), (330, 1741)]),
         line=dict(color="#404040", width=3)),
    dict(type="rect", xref="paper", yref="paper", x0=fx(1662), x1=fx(2036), y0=fy(825), y1=fy(719),
         line=dict(color="#7F7F7F", width=3)),
    dict(type="path", xref="paper", yref="paper", path=path([(2044, 2166), (1678, 2166), (1678, 2274), (2044, 2274)]),
         line=dict(color="#7F7F7F", width=3)),
]

# legend keys
legend_items = [
    ("Clay 2013-2014", BLACK, 5.5, 390, 460, 1312),
    ("Sand 2013-2014", ORANGE, 4.5, 1157, 1230, 1312),
    ("Clay 2014-2015", BLACK, 5.5, 346, 418, 1804),
    ("Sand 2014-2015", ORANGE, 4.5, 863, 934, 1804),
]
for text, color, width, x0, x1, y in legend_items:
    shapes.append(dict(type="line", xref="paper", yref="paper", x0=fx(x0), x1=fx(x1), y0=fy(y), y1=fy(y),
                       line=dict(color=color, width=width)))
    annotations.append(dict(text=text, x=fx(x1 + 4), y=fy(y), xref="paper", yref="paper", showarrow=False,
                            xanchor="left", yanchor="middle", font=bold(52)))

depth_titles = [
    ("5 cm", 985, 131), ("20 cm", 2705, 131), ("30 cm", 1009, 825), ("40 cm", 2722, 825),
    ("5 cm", 945, 1636), ("20 cm", 2745, 1636), ("30 cm", 945, 2340), ("40 cm", 2737, 2333),
]
for text, x, y in depth_titles:
    annotations.append(dict(text=text, x=fx(x), y=fy(y), xref="paper", yref="paper", showarrow=False,
                            xanchor="center", yanchor="middle", font=bold(61)))

other_labels = [
    ("Water content (m<sup>3</sup>·m<sup>-3</sup>)", 52, 52, "left", bold(50)),
    ("Water content (m<sup>3</sup>·m<sup>-3</sup>)", 52, 1568, "left", bold(50)),
    ("a", 286, 160, "center", dict(family=FONT, size=68, color="black")),
    ("b", 283, 1686, "center", dict(family=FONT, size=68, color="black")),
    ("2013 - 2014", 1849, 773, "center", bold(58)),
    ("2014 - 2015", 1860, 2221, "center", bold(58)),
]
for text, x, y, anchor, font in other_labels:
    annotations.append(dict(text=text, x=fx(x), y=fy(y), xref="paper", yref="paper", showarrow=False,
                            xanchor=anchor, yanchor="middle", font=font))

fig.update_layout(
    width=W, height=H,
    margin=dict(l=0, r=0, t=0, b=0, autoexpand=False),
    paper_bgcolor="white", plot_bgcolor="rgba(0,0,0,0)",
    showlegend=False,
    shapes=shapes, annotations=annotations,
    font=dict(family=FONT, color="black"),
)

fig.write_html("out.html")
